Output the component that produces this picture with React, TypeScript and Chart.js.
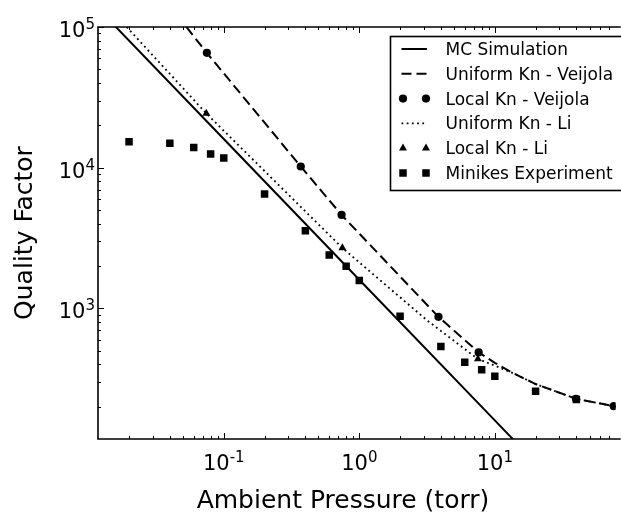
import React, { useEffect, useRef } from 'react';
import { Chart, registerables } from 'chart.js';

Chart.register(...registerables);

const FONT = "'DejaVu Sans', 'Liberation Sans', sans-serif";

// ---------- data ----------
const mcPressure = [0.0118, 0.1, 1, 10, 20];
const mcQ = [135600, 16000, 1600, 160, 80];

const uniVeijolaPressure = [0.053, 0.075, 0.37, 0.74, 3.84, 7.6, 10, 13.7, 20, 39.7, 75.5, 80];
const uniVeijolaQ = [100000, 65500, 10200, 4620, 871, 487, 410, 346, 290, 228, 202, 200];

const localVeijolaPressure = [0.075, 0.37, 0.74, 3.84, 7.6, 39.7, 75.5];
const localVeijolaQ = [65500, 10200, 4620, 871, 487, 228, 202];

const uniLiPressure = [0.0192, 0.0743, 0.75, 3.19, 7.5, 10, 13.7, 20, 39.7, 75.5, 80];
const uniLiQ = [100000, 24300, 2690, 817, 437, 392, 346, 290, 228, 202, 200];

const localLiPressure = [0.0743, 0.75, 7.5];
const localLiQ = [24300, 2690, 437];

const minikesPressure = [0.02, 0.04, 0.06, 0.08, 0.1, 0.2, 0.4, 0.6, 0.8, 1, 2, 4, 6, 8, 10, 20, 40];
const minikesQ = [15300, 14900, 13900, 12500, 11700, 6500, 3570, 2400, 1990, 1580, 878, 537, 414, 367, 330, 258, 225];

const seriesLabels = [
  'MC Simulation',
  'Uniform Kn - Veijola',
  'Local Kn - Veijola',
  'Uniform Kn - Li',
  'Local Kn - Li',
  'Minikes Experiment',
];

const xMin = 0.0118;
const xMax = 78;
const yMin = 118;
const yMax = 100000;

const xTickValues = [0.1, 1, 10];
const xTickExponents = ['-1', '0', '1'];
const yTickValues = [1000, 10000, 100000];
const yTickExponents = ['3', '4', '5'];

const xTitle = 'Ambient Pressure (torr)';
const yTitle = 'Quality Factor';

const pts = (xs: number[], ys: number[]) => xs.map((x, i) => ({ x, y: ys[i] }));

// ---------- plugins ----------
const axesPlugin = {
  id: 'mplAxes',
  afterDatasetsDraw(chart: any) {
    const { ctx, chartArea: a, scales } = chart;
    const xs = scales.x;
    const ys = scales.y;
    ctx.save();
    ctx.strokeStyle = '#000';
    ctx.lineWidth = 1;
    const seg = (x1: number, y1: number, x2: number, y2: number) => {
      ctx.beginPath();
      ctx.moveTo(x1, y1);
      ctx.lineTo(x2, y2);
      ctx.stroke();
    };
    for (let e = -3; e <= 2; e++) {
      for (let m = 1; m <= 9; m++) {
        const v = m * Math.pow(10, e);
        if (v < xMin || v > xMax) continue;
        const px = Math.round(xs.getPixelForValue(v)) + 0.5;
        const len = m === 1 ? 6 : 3;
        seg(px, a.bottom, px, a.bottom - len);
        seg(px, a.top, px, a.top + len);
      }
    }
    for (let e = 1; e <= 5; e++) {
      for (let m = 1; m <= 9; m++) {
        const v = m * Math.pow(10, e);
        if (v < yMin || v > yMax) continue;
        const py = Math.round(ys.getPixelForValue(v)) + 0.5;
        const len = m === 1 ? 6 : 3;
        seg(a.left, py, a.left + len, py);
      }
    }
    ctx.lineWidth = 1.6;
    ctx.beginPath();
    ctx.moveTo(a.right + 5, a.top);
    ctx.lineTo(a.left, a.top);
    ctx.lineTo(a.left, a.bottom);
    ctx.lineTo(a.right + 5, a.bottom);
    ctx.stroke();

    // tick labels 10^n
    ctx.fillStyle = '#000';
    ctx.textBaseline = 'alphabetic';
    ctx.textAlign = 'left';
    const baseFont = `21px ${FONT}`;
    const expFont = `15px ${FONT}`;
    const drawLabel = (exp: string, cx: number | null, right: number | null, baseY: number) => {
      ctx.font = baseFont;
      const wb = ctx.measureText('10').width;
      ctx.font = expFont;
      const we = ctx.measureText(exp).width;
      const total = wb + we;
      const left = cx !== null ? cx - total / 2 : (right as number) - total;
      ctx.font = baseFont;
      ctx.fillText('10', left, baseY);
      ctx.font = expFont;
      ctx.fillText(exp, left + wb, baseY - 8);
    };
    xTickValues.forEach((v, i) => {
      const px = xs.getPixelForValue(v);
      drawLabel(xTickExponents[i], px, null, a.bottom + 31);
    });
    yTickValues.forEach((v, i) => {
      const py = ys.getPixelForValue(v);
      drawLabel(yTickExponents[i], null, a.left - 3, py + 10);
    });

    // axis titles
    ctx.font = `25px ${FONT}`;
    ctx.textAlign = 'center';
    ctx.fillText(xTitle, a.left + 245, a.bottom + 69);
    ctx.save();
    ctx.translate(32, (a.top + a.bottom) / 2);
    ctx.rotate(-Math.PI / 2);
    ctx.fillText(yTitle, 0, 0);
    ctx.restore();
    ctx.restore();
  },
};

const drawMarker = (ctx: CanvasRenderingContext2D, style: string, x: number, y: number, r: number) => {
  ctx.beginPath();
  if (style === 'circle') {
    ctx.arc(x, y, r, 0, Math.PI * 2);
  } else if (style === 'rect') {
    const s = r * Math.SQRT1_2;
    ctx.rect(x - s, y - s, 2 * s, 2 * s);
  } else if (style === 'triangle') {
    for (let k = 0; k < 3; k++) {
      const ang = (k * 2 * Math.PI) / 3;
      const px = x + Math.sin(ang) * r;
      const py = y - Math.cos(ang) * r;
      if (k === 0) ctx.moveTo(px, py);
      else ctx.lineTo(px, py);
    }
    ctx.closePath();
  }
  ctx.fill();
};

const legendPlugin = {
  id: 'mplLegend',
  afterDraw(chart: any) {
    const ctx: CanvasRenderingContext2D = chart.ctx;
    ctx.save();
    const bx = 390.5;
    const by = 36.5;
    ctx.fillStyle = '#fff';
    ctx.fillRect(bx, by, 260, 154);
    ctx.strokeStyle = '#000';
    ctx.lineWidth = 1.6;
    ctx.strokeRect(bx, by, 260, 154);
    ctx.font = `17px ${FONT}`;
    ctx.textAlign = 'left';
    ctx.textBaseline = 'alphabetic';
    chart.data.datasets.forEach((ds: any, i: number) => {
      const cy = 49 + i * 24.8;
      ctx.fillStyle = '#000';
      ctx.strokeStyle = '#000';
      if (ds.showLine) {
        ctx.setLineDash(ds.borderDash || []);
        ctx.lineWidth = ds.borderWidth;
        ctx.beginPath();
        ctx.moveTo(401.5, cy);
        ctx.lineTo(427, cy);
        ctx.stroke();
        ctx.setLineDash([]);
      } else {
        drawMarker(ctx, ds.pointStyle, 403, cy, ds.pointRadius);
        drawMarker(ctx, ds.pointStyle, 426, cy, ds.pointRadius);
      }
      ctx.fillText(ds.label, 445.5, cy + 6);
    });
    ctx.restore();
  },
};

export default function App() {
  const ref = useRef<HTMLCanvasElement>(null);
  useEffect(() => {
    const canvas = ref.current;
    if (!canvas) return;
    const lineBase = { showLine: true, pointRadius: 0, borderColor: '#000', backgroundColor: '#000', fill: false, tension: 0 };
    const markBase = { showLine: false, borderWidth: 0, pointBorderWidth: 0, backgroundColor: '#000', borderColor: '#000', pointBackgroundColor: '#000' };
    const chart = new Chart(canvas, {
      type: 'scatter',
      data: {
        datasets: [
          { ...lineBase, label: seriesLabels[0], data: pts(mcPressure, mcQ), borderWidth: 2 },
          { ...lineBase, label: seriesLabels[1], data: pts(uniVeijolaPressure, uniVeijolaQ), borderWidth: 2, borderDash: [10, 5] },
          { ...markBase, label: seriesLabels[2], data: pts(localVeijolaPressure, localVeijolaQ), pointStyle: 'circle', pointRadius: 4.1 },
          { ...lineBase, label: seriesLabels[3], data: pts(uniLiPressure, uniLiQ), borderWidth: 1.8, borderDash: [1.8, 3.4] },
          { ...markBase, label: seriesLabels[4], data: pts(localLiPressure, localLiQ), pointStyle: 'triangle', pointRadius: 4.6 },
          { ...markBase, label: seriesLabels[5], data: pts(minikesPressure, minikesQ), pointStyle: 'rect', pointRadius: 5.3 },
        ],
      } as any,
      options: {
        responsive: false,
        animation: false,
        devicePixelRatio: 1,
        layout: { padding: { top: 27, left: 0, right: 0, bottom: 0 } },
        plugins: { legend: { display: false }, tooltip: { enabled: false }, title: { display: false } },
        scales: {
          x: {
            type: 'logarithmic',
            position: 'bottom',
            min: xMin,
            max: xMax,
            grid: { display: false },
            border: { display: false },
            ticks: { display: false },
            afterBuildTicks: (s: any) => {
              s.ticks = xTickValues.map((v) => ({ value: v }));
            },
            afterFit: (s: any) => {
              s.height = 73;
            },
          },
          y: {
            type: 'logarithmic',
            position: 'left',
            min: yMin,
            max: yMax,
            grid: { display: false },
            border: { display: false },
            ticks: { display: false },
            afterBuildTicks: (s: any) => {
              s.ticks = yTickValues.map((v) => ({ value: v }));
            },
            afterFit: (s: any) => {
              s.width = 98;
            },
          },
        },
      } as any,
      plugins: [axesPlugin, legendPlugin],
    });
    return () => chart.destroy();
  }, []);
  return (
    <div style={{ position: 'fixed', left: 0, top: 0, width: 621, height: 512, overflow: 'hidden', background: '#fff' }}>
      <canvas ref={ref} width={621} height={512} style={{ display: 'block', width: 621, height: 512 }} />
    </div>
  );
}
